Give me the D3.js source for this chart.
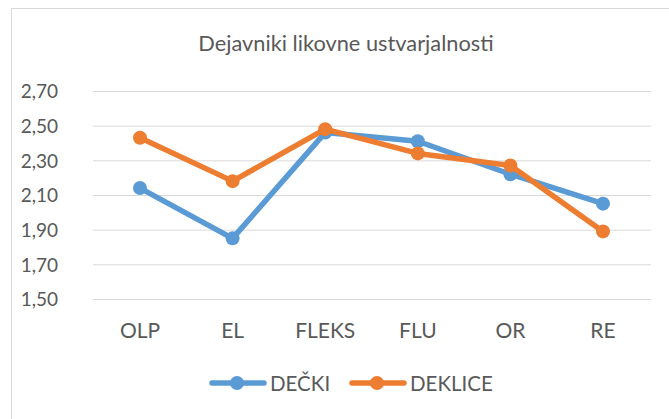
<!DOCTYPE html>
<html>
<head>
<meta charset="utf-8">
<script src="https://cdn.jsdelivr.net/npm/d3@7"></script>
<style>
  body { margin: 0; background: #fff; }
  text { font-family: Lato, "Open Sans", sans-serif; fill: #595959; }
</style>
</head>
<body>
<div id="chart"></div>
<script>
const categories = ['OLP', 'EL', 'FLEKS', 'FLU', 'OR', 'RE'];
const decki = [2.14, 1.85, 2.46, 2.41, 2.22, 2.05];
const deklice = [2.43, 2.18, 2.48, 2.34, 2.27, 1.89];
const yTicks = [1.5, 1.7, 1.9, 2.1, 2.3, 2.5, 2.7];

const width = 669;
const height = 419;

const series = [
  {name: 'DEČKI', values: decki, color: '#5B9BD5'},
  {name: 'DEKLICE', values: deklice, color: '#ED7D31'}
];

let svg = d3.select('#chart').append('svg')
  .attr('width', width)
  .attr('height', height)

// chart frame
svg.append('rect')
  .attr('x', 11.5)
  .attr('y', 8.5)
  .attr('width', 700)
  .attr('height', 430)
  .attr('fill', 'none')
  .attr('stroke', '#d9d9d9')

svg.append('text')
  .attr('x', 346)
  .attr('y', 51)
  .attr('text-anchor', 'middle')
  .style('font-size', '21.8px')
  .text('Dejavniki likovne ustvarjalnosti')

let x = d3.scalePoint()
  .domain(categories)
  .range([140, 603])

let y = d3.scaleLinear()
  .domain([1.5, 2.7])
  .range([299, 91])

// gridlines
svg.append('g')
  .attr('transform', 'translate(93,0)')
  .call(d3.axisLeft(y).tickValues(yTicks).tickSize(-558).tickFormat(d => d3.format('.2f')(d).replace('.', ',')))
  .call(g => g.select('.domain').remove())
  .call(g => g.selectAll('.tick line').attr('stroke', '#d9d9d9').attr('stroke-width', 1))
  .call(g => g.selectAll('.tick text').attr('x', -35).attr('text-anchor', 'end').attr('fill', '#595959').style('font-size', '19px'))
  .selectAll('text').attr('dy', '0.36em')

svg.append('g')
  .selectAll('text').data(categories)
  .enter().append('text')
    .attr('x', d => x(d))
    .attr('y', 338)
    .attr('text-anchor', 'middle')
    .style('font-size', '21px')
    .text(d => d)

let line = d3.line()
  .x((d, i) => x(categories[i]))
  .y(d => y(d))

series.forEach(s => {
  let g = svg.append('g')
  g.append('path')
    .attr('d', line(s.values))
    .attr('fill', 'none')
    .attr('stroke', s.color)
    .attr('stroke-width', 5.5)
    .attr('stroke-linejoin', 'round')
    .attr('stroke-linecap', 'round')
  g.selectAll('circle').data(s.values)
    .enter().append('circle')
      .attr('cx', (d, i) => x(categories[i]))
      .attr('cy', d => y(d))
      .attr('r', 7)
      .attr('fill', s.color)
})

// legend
const legendX = [210, 350];
series.forEach((s, i) => {
  let g = svg.append('g').attr('transform', `translate(${legendX[i]},383)`)
  g.append('line')
    .attr('x1', 2).attr('x2', 54)
    .attr('stroke', s.color)
    .attr('stroke-width', 5.5)
    .attr('stroke-linecap', 'round')
  g.append('circle').attr('cx', 27).attr('r', 7).attr('fill', s.color)
  g.append('text')
    .attr('x', 60)
    .attr('y', 8)
    .style('font-size', '20.5px')
    .text(s.name)
})
</script>
</body>
</html>
